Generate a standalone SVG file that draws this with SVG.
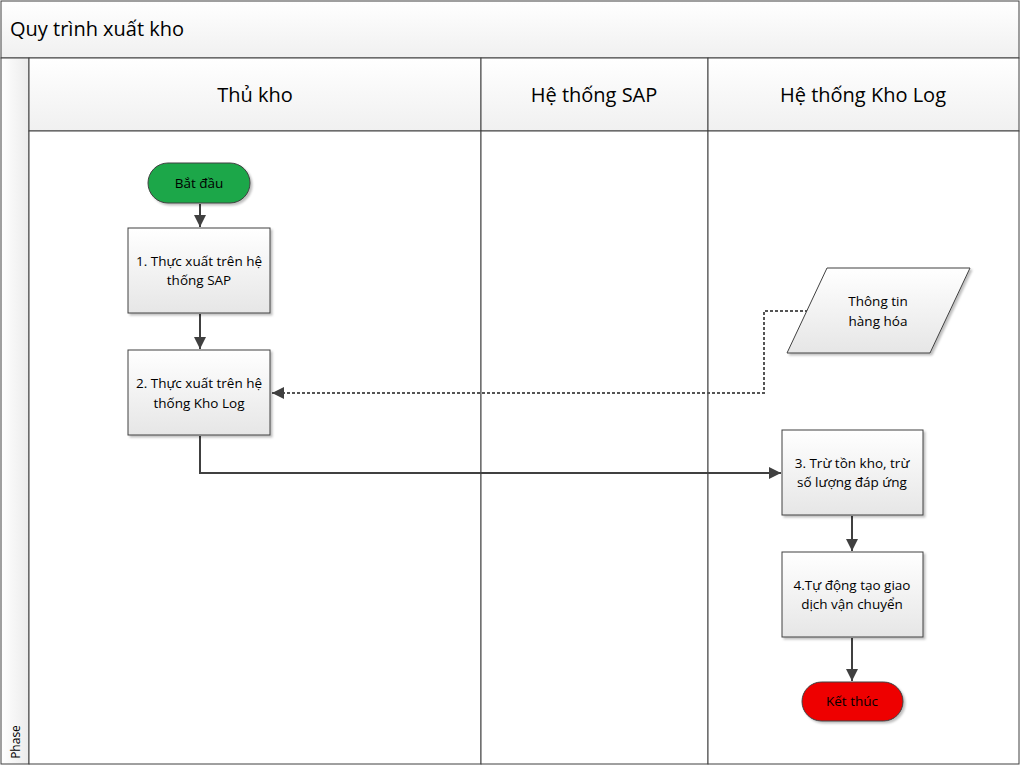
<svg xmlns="http://www.w3.org/2000/svg" width="1020" height="765" viewBox="0 0 1020 765">
<defs>
<linearGradient id="gBox" x1="0" y1="0" x2="0" y2="1"><stop offset="0" stop-color="#ffffff"/><stop offset="1" stop-color="#e6e6e6"/></linearGradient>
<linearGradient id="gHead" x1="0" y1="0" x2="0" y2="1"><stop offset="0" stop-color="#ffffff"/><stop offset="1" stop-color="#f0f0f0"/></linearGradient>
<linearGradient id="gPhase" x1="0" y1="0" x2="1" y2="0"><stop offset="0" stop-color="#ffffff"/><stop offset="1" stop-color="#ebebeb"/></linearGradient>
<marker id="arr" viewBox="0 0 12 12" refX="12" refY="6" markerWidth="12" markerHeight="12" markerUnits="userSpaceOnUse" orient="auto"><path d="M0,0 L12,6 L0,12 z" fill="#404040"/></marker>
<filter id="sh" x="-10%" y="-10%" width="130%" height="130%"><feDropShadow dx="2" dy="2" stdDeviation="1.2" flood-color="#000" flood-opacity="0.25"/></filter>
</defs>
<style>
.t{font-family:"Open Sans","Noto Sans","Liberation Sans",sans-serif;fill:#000;text-anchor:middle}
.lbl{font-size:13.5px}
.hd{font-size:20px}
.box{fill:url(#gBox);stroke:#404040;stroke-width:1;filter:url(#sh)}
.con{fill:none;stroke:#404040;stroke-width:2}
.dash{fill:none;stroke:#555555;stroke-width:2;stroke-dasharray:3,2}
</style>
<rect x="0" y="0" width="1020" height="765" fill="#ffffff"/>
<rect x="1" y="1" width="1018" height="57" fill="url(#gHead)" stroke="#404040"/>
<text class="t" x="10" y="36" font-size="20" style="text-anchor:start">Quy trình xuất kho</text>
<g id="phase">
<rect x="1" y="58" width="28" height="706" fill="url(#gPhase)" stroke="#404040"/>
<text class="t" x="20" y="742" font-size="12" transform="rotate(-90 20 742)">Phase</text>
</g>
<g id="lanes">
<rect x="29" y="58" width="452" height="73" fill="url(#gHead)" stroke="#404040"/>
<rect x="481" y="58" width="227" height="73" fill="url(#gHead)" stroke="#404040"/>
<rect x="708" y="58" width="311" height="73" fill="url(#gHead)" stroke="#404040"/>
<rect x="29" y="131" width="452" height="633" fill="#fff" stroke="#404040"/>
<rect x="481" y="131" width="227" height="633" fill="#fff" stroke="#404040"/>
<rect x="708" y="131" width="311" height="633" fill="#fff" stroke="#404040"/>
<text class="t hd" x="255" y="102">Thủ kho</text>
<text class="t hd" x="594" y="102">Hệ thống SAP</text>
<text class="t hd" x="863" y="102">Hệ thống Kho Log</text>
</g>
<g id="connectors">
<path class="con" d="M200,204 V227" marker-end="url(#arr)"/>
<path class="con" d="M200,314 V349" marker-end="url(#arr)"/>
<path class="dash" d="M808,311 H764 V393 H272" marker-end="url(#arr)"/>
<path class="con" d="M200,436 V473 H781" marker-end="url(#arr)"/>
<path class="con" d="M852,516 V551" marker-end="url(#arr)"/>
<path class="con" d="M852,638 V681" marker-end="url(#arr)"/>
</g>
<g id="start">
<rect x="148" y="163" width="102" height="40" rx="20" fill="#1fa74a" stroke="#404040" filter="url(#sh)"/>
<text class="t lbl" x="199" y="188">Bắt đầu</text>
</g>
<g id="step1">
<rect class="box" x="128" y="228" width="142" height="85"/>
<text class="t lbl" x="199" y="266">1. Thực xuất trên hệ</text>
<text class="t lbl" x="199" y="285">thống SAP</text>
</g>
<g id="step2">
<rect class="box" x="128" y="350" width="142" height="85"/>
<text class="t lbl" x="199" y="388">2. Thực xuất trên hệ</text>
<text class="t lbl" x="199" y="408">thống Kho Log</text>
</g>
<g id="info">
<polygon points="827,268 970,268 930,353 787,353" fill="url(#gBox)" stroke="#404040" filter="url(#sh)"/>
<text class="t lbl" x="878" y="306">Thông tin</text>
<text class="t lbl" x="878" y="326">hàng hóa</text>
</g>
<g id="step3">
<rect class="box" x="782" y="430" width="141" height="85"/>
<text class="t lbl" x="852" y="468">3. Trừ tồn kho, trừ</text>
<text class="t lbl" x="852" y="487">số lượng đáp ứng</text>
</g>
<g id="step4">
<rect class="box" x="782" y="552" width="141" height="85"/>
<text class="t lbl" x="852" y="590">4.Tự động tạo giao</text>
<text class="t lbl" x="852" y="609">dịch vận chuyển</text>
</g>
<g id="end">
<rect x="802" y="682" width="101" height="39" rx="19.5" fill="#ee0000" stroke="#404040" filter="url(#sh)"/>
<text class="t lbl" x="852" y="706">Kết thúc</text>
</g>
</svg>
